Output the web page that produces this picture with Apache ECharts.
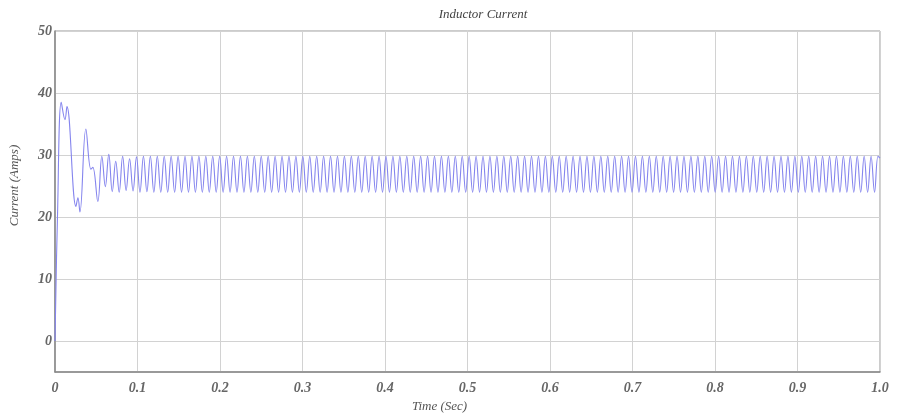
<!DOCTYPE html>
<html>
<head>
<meta charset="utf-8">
<script src="https://cdn.jsdelivr.net/npm/echarts@6/dist/echarts.min.js"></script>
<style>
html, body { margin: 0; padding: 0; background: #fff; }
#main { width: 897px; height: 419px; }
</style>
</head>
<body>
<div id="main"></div>
<script>
// start-up transient: [time (s), current (A)]
const transient = [
    [0, 0], [0.0030, 20.0], [0.0076, 38.5], [0.0121, 35.7], [0.0145, 37.8],
    [0.0254, 21.7], [0.0278, 23.1], [0.0302, 20.8], [0.0374, 34.2],
    [0.0435, 27.7], [0.0459, 28.0], [0.0519, 22.5]
];

// steady ripple: first peak time, ripple period, then peak / trough values
const rippleStart = 0.0568;
const ripplePeriod = 0.0084;
const peaks = [
    29.8, 30.1, 29.0, 29.8, 29.4, 29.7, 29.8, 29.8, 29.8, 29.8,
    29.8, 29.8, 29.8, 29.8, 29.8, 29.8, 29.8, 29.8, 29.8, 29.8,
    29.8, 29.8, 29.8, 29.8, 29.8, 29.8, 29.8, 29.8, 29.8, 29.8,
    29.8, 29.8, 29.8, 29.8, 29.8, 29.8, 29.8, 29.8, 29.8, 29.8,
    29.8, 29.8, 29.8, 29.8, 29.8, 29.8, 29.8, 29.8, 29.8, 29.8,
    29.8, 29.8, 29.8, 29.8, 29.8, 29.8, 29.8, 29.8, 29.8, 29.8,
    29.8, 29.8, 29.8, 29.8, 29.8, 29.8, 29.8, 29.8, 29.8, 29.8,
    29.8, 29.8, 29.8, 29.8, 29.8, 29.8, 29.8, 29.8, 29.8, 29.8,
    29.8, 29.8, 29.8, 29.8, 29.8, 29.8, 29.8, 29.8, 29.8, 29.8,
    29.8, 29.8, 29.8, 29.8, 29.8, 29.8, 29.8, 29.8, 29.8, 29.8,
    29.8, 29.8, 29.8, 29.8, 29.8, 29.8, 29.8, 29.8, 29.8, 29.8,
    29.8, 29.8, 29.8
];
const troughs = [
    24.9, 24.1, 24.0, 24.3, 24.2, 24.0, 24.1, 24.0, 24.0, 24.0,
    24.0, 24.0, 24.0, 24.0, 24.0, 24.0, 24.0, 24.0, 24.0, 24.0,
    24.0, 24.0, 24.0, 24.0, 24.0, 24.0, 24.0, 24.0, 24.0, 24.0,
    24.0, 24.0, 24.0, 24.0, 24.0, 24.0, 24.0, 24.0, 24.0, 24.0,
    24.0, 24.0, 24.0, 24.0, 24.0, 24.0, 24.0, 24.0, 24.0, 24.0,
    24.0, 24.0, 24.0, 24.0, 24.0, 24.0, 24.0, 24.0, 24.0, 24.0,
    24.0, 24.0, 24.0, 24.0, 24.0, 24.0, 24.0, 24.0, 24.0, 24.0,
    24.0, 24.0, 24.0, 24.0, 24.0, 24.0, 24.0, 24.0, 24.0, 24.0,
    24.0, 24.0, 24.0, 24.0, 24.0, 24.0, 24.0, 24.0, 24.0, 24.0,
    24.0, 24.0, 24.0, 24.0, 24.0, 24.0, 24.0, 24.0, 24.0, 24.0,
    24.0, 24.0, 24.0, 24.0, 24.0, 24.0, 24.0, 24.0, 24.0, 24.0,
    24.0, 24.0
];
const endPoint = [1.0, 29.5];

const yLabels = [0, 10, 20, 30, 40, 50];

// build the series: transient + peak/trough pairs on the ripple grid
let points = transient.slice();
for (let k = 0; k < peaks.length; k++) {
    points.push([rippleStart + k * ripplePeriod, peaks[k]]);
    if (k < troughs.length) {
        points.push([rippleStart + (k + 0.5) * ripplePeriod, troughs[k]]);
    }
}
points.push(endPoint);

const font = 'Liberation Serif';
let chart = echarts.init(document.getElementById('main'));
let option = {
    animation: false,
    backgroundColor: '#fff',
    title: {
        text: 'Inductor Current',
        left: 478,
        top: 3,
        textAlign: 'center',
        textStyle: { fontFamily: font, fontStyle: 'italic', fontWeight: 'normal', fontSize: 13, color: '#444' }
    },
    grid: {
        left: 51, right: 17, top: 31, bottom: 47,
        show: true,
        borderColor: '#999',
        borderWidth: 1
    },
    xAxis: {
        type: 'value',
        min: 0, max: 1, interval: 0.1,
        name: 'Time (Sec)',
        nameLocation: 'middle',
        nameGap: 26,
        nameTextStyle: { fontFamily: font, fontStyle: 'italic', fontSize: 13, color: '#555', padding: [0, 56, 0, 0] },
        axisLine: { onZero: false, lineStyle: { color: '#888', width: 1.5 } },
        axisTick: { show: false },
        axisLabel: {
            fontFamily: font, fontStyle: 'italic', fontWeight: 'bold', fontSize: 14, color: '#666', margin: 9,
            formatter: v => (v === 0 ? '0' : v.toFixed(1))
        },
        splitLine: { lineStyle: { color: '#d2d2d2', width: 1 } }
    },
    yAxis: {
        type: 'value',
        min: -5, max: 50, interval: 5,
        name: 'Current (Amps)',
        nameLocation: 'middle',
        nameGap: 34,
        nameTextStyle: { fontFamily: font, fontStyle: 'italic', fontSize: 13, color: '#555', padding: [0, 0, 0, 32] },
        axisLine: { onZero: false, lineStyle: { color: '#888', width: 1.5 } },
        axisTick: { show: false },
        axisLabel: {
            fontFamily: font, fontStyle: 'italic', fontWeight: 'bold', fontSize: 14, color: '#666', margin: 3,
            formatter: v => (yLabels.indexOf(v) >= 0 ? String(v) : '')
        },
        splitLine: { lineStyle: { color: ['transparent', '#d2d2d2'], width: 1 } }
    },
    series: [
        {
            type: 'line',
            data: points,
            showSymbol: false,
            smooth: 0.4,
            lineStyle: { color: '#8585ee', width: 1.1 }
        }
    ]
};
chart.setOption(option);
</script>
</body>
</html>
